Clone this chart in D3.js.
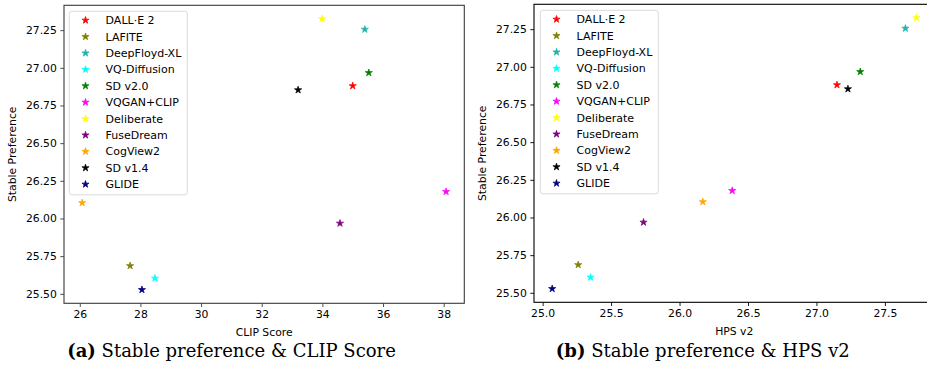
<!DOCTYPE html>
<html>
<head>
<meta charset="utf-8">
<script src="https://cdn.jsdelivr.net/npm/d3@7"></script>
<style>
  body { margin: 0; background: #fff; }
  svg { display: block; }
  text { font-family: "DejaVu Sans", sans-serif; }
</style>
</head>
<body>
<svg id="chart" width="927" height="366"></svg>
<script>
// models and their colours (legend order)
const models = ["DALL\u00B7E 2", "LAFITE", "DeepFloyd-XL", "VQ-Diffusion", "SD v2.0", "VQGAN+CLIP",
  "Deliberate", "FuseDream", "CogView2", "SD v1.4", "GLIDE"];
const colors = ["#ff0000", "#808000", "#20b2aa", "#00ffff", "#008000", "#ff00ff",
  "#ffff00", "#800080", "#ffa500", "#000000", "#000080"];

// values
const stablePref = [26.88, 25.686, 27.255, 25.603, 26.967, 26.178, 27.325, 25.968, 26.104, 26.853, 25.527];
const clipScore = [35.0, 27.66, 35.40, 28.48, 35.53, 38.08, 33.99, 34.58, 26.08, 33.20, 28.05];
const hpsV2 = [27.15, 25.26, 27.65, 25.35, 27.32, 26.385, 27.73, 25.737, 26.17, 27.23, 25.07];

const clipTicks = [26, 28, 30, 32, 34, 36, 38];
const hpsTicks = [25.0, 25.5, 26.0, 26.5, 27.0, 27.5];
const prefTicks = [25.50, 25.75, 26.00, 26.25, 26.50, 26.75, 27.00, 27.25];

const svg = d3.select("#chart");
const fontSize = 10.8;

// matplotlib style 5% margins
function padded(values) {
  const [lo, hi] = d3.extent(values);
  const p = (hi - lo) * 0.05;
  return [lo - p, hi + p];
}

function drawPanel(opt) {
  const x = d3.scaleLinear().domain(padded(opt.xs)).range([opt.left, opt.right]);
  const y = d3.scaleLinear().domain(padded(stablePref)).range([opt.bottom, opt.top]);
  const g = svg.append("g");

  // x axis
  const xa = g.append("g")
    .attr("transform", `translate(0,${opt.bottom})`)
    .call(d3.axisBottom(x).tickValues(opt.xTicks).tickFormat(opt.xFormat).tickSize(3.7).tickPadding(3.5));
  // y axis
  const ya = g.append("g")
    .attr("transform", `translate(${opt.left},0)`)
    .call(d3.axisLeft(y).tickValues(prefTicks).tickFormat(d3.format(".2f")).tickSize(3.7).tickPadding(3.5));
  [xa, ya].forEach(a => {
    a.select(".domain").remove();
    a.selectAll("line").attr("stroke", opt.spine).attr("stroke-width", 0.9);
    a.selectAll("text").attr("fill", "#000").style("font-size", fontSize + "px")
      .style("font-family", "'DejaVu Sans', sans-serif");
  });

  // frame
  g.append("rect")
    .attr("x", opt.left).attr("y", opt.top)
    .attr("width", opt.right - opt.left).attr("height", opt.bottom - opt.top)
    .attr("fill", "none").attr("stroke", opt.spine).attr("stroke-width", 1.1);

  // points
  const star = d3.symbol().type(d3.symbolStar).size(16);
  g.selectAll("path.pt")
    .data(models.map((m, i) => ({ m, c: colors[i], xv: opt.xs[i], yv: stablePref[i] })))
    .enter().append("path")
    .attr("class", "pt")
    .attr("d", star)
    .attr("transform", d => `translate(${x(d.xv)},${y(d.yv)})`)
    .attr("fill", d => d.c)
    .attr("stroke", d => d.c)
    .attr("stroke-width", 0.7);

  // axis labels
  g.append("text")
    .attr("x", (opt.left + opt.right) / 2)
    .attr("y", opt.bottom + 33)
    .attr("text-anchor", "middle")
    .style("font-size", fontSize + "px")
    .text(opt.xLabel);
  g.append("text")
    .attr("transform", `translate(${opt.yLabelX},${(opt.top + opt.bottom) / 2}) rotate(-90)`)
    .attr("text-anchor", "middle")
    .style("font-size", fontSize + "px")
    .text("Stable Preference");

  // legend
  const lg = g.append("g").attr("transform", `translate(${opt.legend[0]},${opt.legend[1]})`);
  lg.append("rect")
    .attr("width", 118).attr("height", 183.5)
    .attr("rx", 2.5)
    .attr("fill", "#fff").attr("fill-opacity", 0.8)
    .attr("stroke", "#d6d6d6").attr("stroke-width", 0.9);
  const rows = lg.selectAll("g.row")
    .data(models)
    .enter().append("g")
    .attr("class", "row")
    .attr("transform", (d, i) => `translate(0,${9 + i * 16.4})`);
  rows.append("path")
    .attr("d", star)
    .attr("transform", "translate(16.2,0)")
    .attr("fill", (d, i) => colors[i])
    .attr("stroke", (d, i) => colors[i])
    .attr("stroke-width", 0.7);
  rows.append("text")
    .attr("x", 36.3)
    .attr("dy", "0.35em")
    .style("font-size", "11px")
    .text(d => d);

  // caption
  const cap = g.append("text")
    .attr("x", opt.capX)
    .attr("y", 357)
    .attr("text-anchor", "middle")
    .style("font-family", "'DejaVu Serif', serif")
    .style("font-size", "18px");
  cap.append("tspan").style("font-weight", "bold").text(opt.capTag);
  cap.append("tspan").text(" " + opt.capText);
}

drawPanel({
  xs: clipScore, xTicks: clipTicks, xFormat: d3.format("d"),
  left: 64, right: 464.3, top: 5.3, bottom: 303.3,
  spine: "#3a3a3a", xLabel: "CLIP Score", yLabelX: 16,
  legend: [69.3, 11.3],
  capX: 231.5, capTag: "(a)", capText: "Stable preference & CLIP Score"
});

drawPanel({
  xs: hpsV2, xTicks: hpsTicks, xFormat: d3.format(".1f"),
  left: 534, right: 934.6, top: 4.3, bottom: 302.3,
  spine: "#000", xLabel: "HPS v2", yLabelX: 486,
  legend: [540.3, 10.3],
  capX: 702.8, capTag: "(b)", capText: "Stable preference & HPS v2"
});
</script>
</body>
</html>
